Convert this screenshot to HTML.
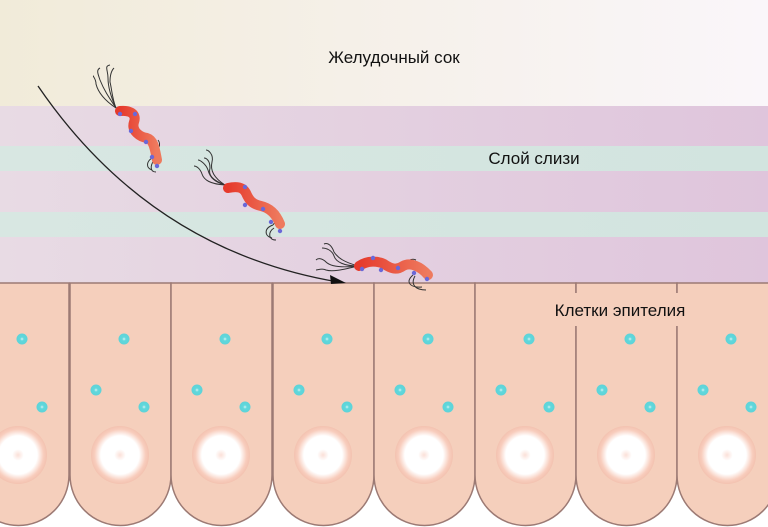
<!DOCTYPE html>
<html><head><meta charset="utf-8"><style>
html,body{margin:0;padding:0;background:#fff}
svg{display:block}
text{font-family:"Liberation Sans",sans-serif;fill:#111}
</style></head><body>
<svg width="768" height="527" viewBox="0 0 768 527" xmlns="http://www.w3.org/2000/svg">
<defs>
<linearGradient id="top" x1="0" x2="1"><stop offset="0" stop-color="#f1ebd9"/><stop offset="1" stop-color="#faf6fa"/></linearGradient>
<linearGradient id="pur" x1="0" x2="1"><stop offset="0" stop-color="#e8dbe4"/><stop offset="1" stop-color="#dfc5dc"/></linearGradient>
<linearGradient id="tea" x1="0" x2="1"><stop offset="0" stop-color="#d8e7e2"/><stop offset="1" stop-color="#d2e4df"/></linearGradient>
<radialGradient id="nuc"><stop offset="0" stop-color="#fbe0d8"/><stop offset="0.2" stop-color="#fff"/><stop offset="0.66" stop-color="#fff"/><stop offset="0.88" stop-color="#f8cdbd"/><stop offset="1" stop-color="#f3c2b0"/></radialGradient>
<radialGradient id="dot"><stop offset="0" stop-color="#d8f4f4"/><stop offset="0.35" stop-color="#60d8dc"/><stop offset="1" stop-color="#5dd3d8"/></radialGradient>
<linearGradient id="bac" x1="0" x2="1"><stop offset="0" stop-color="#e63a2c"/><stop offset="1" stop-color="#ee7a5e"/></linearGradient>
<g id="cell">
<path d="M0,0 L0,192 A50.5,50.5 0 0 0 101,192 L101,0 Z" fill="#f5cfbc" stroke="#9c7a74" stroke-width="1.5"/>
<circle cx="54" cy="56" r="5.5" fill="url(#dot)"/>
<circle cx="26" cy="107" r="5.5" fill="url(#dot)"/>
<circle cx="74" cy="124" r="5.5" fill="url(#dot)"/>
<circle cx="50" cy="172" r="29" fill="url(#nuc)"/>
</g>
</defs>
<rect x="0" y="0" width="768" height="106" fill="url(#top)"/>
<rect x="0" y="106" width="768" height="40" fill="url(#pur)"/>
<rect x="0" y="146" width="768" height="25" fill="url(#tea)"/>
<rect x="0" y="171" width="768" height="41" fill="url(#pur)"/>
<rect x="0" y="212" width="768" height="25" fill="url(#tea)"/>
<rect x="0" y="237" width="768" height="47" fill="url(#pur)"/>
<text x="394" y="63" font-size="17" text-anchor="middle">Желудочный сок</text>
<text x="534" y="164" font-size="17" text-anchor="middle">Слой слизи</text>

<use href="#cell" x="-32" y="283"/>
<use href="#cell" x="70" y="283"/>
<use href="#cell" x="171" y="283"/>
<use href="#cell" x="273" y="283"/>
<use href="#cell" x="374" y="283"/>
<use href="#cell" x="475" y="283"/>
<use href="#cell" x="576" y="283"/>
<use href="#cell" x="677" y="283"/>
<rect x="530" y="293" width="200" height="33" fill="#f5cfbc"/>
<text x="620" y="316" font-size="17" text-anchor="middle">Клетки эпителия</text>

<path d="M38,86 Q150,250 338,282" fill="none" stroke="#222" stroke-width="1.3"/>
<path d="M330,275 L346,283 L331,284 Z" fill="#111"/>

<g fill="none" stroke="#333" stroke-width="1">
<path d="M116,108 C108,96 104,90 100,80 C98,74 96,70 100,68"/>
<path d="M116,108 C110,95 108,85 108,78 C108,70 104,66 110,65"/>
<path d="M116,108 C112,98 112,90 110,82 C110,74 112,70 114,68"/>
<path d="M116,108 C104,100 98,92 96,84 C96,78 92,76 94,76"/>
<path d="M152,158 C158,150 162,145 158,140"/><path d="M152,158 C146,162 146,168 152,170"/><path d="M154,160 C150,166 150,172 156,172"/>
<path d="M225,185 C212,180 208,175 210,168 C210,160 206,158 204,158"/>
<path d="M225,185 C214,178 210,170 212,162 C214,154 208,150 206,150"/>
<path d="M225,185 C210,184 204,180 202,174 C200,168 196,166 194,166"/>
<path d="M225,185 C215,182 210,178 208,170 C206,164 200,160 198,160"/>
<path d="M273,225 C278,218 282,214 276,210"/><path d="M273,225 C264,228 264,236 272,238"/><path d="M274,228 C268,232 268,240 276,240"/>
<path d="M358,266 C344,266 336,262 334,256 C332,250 326,248 322,248"/>
<path d="M358,266 C344,262 338,258 334,252 C332,246 328,242 324,244"/>
<path d="M358,266 C340,268 330,266 326,262 C322,258 318,258 316,260"/>
<path d="M358,266 C342,270 332,272 326,270 C322,268 318,270 316,270"/>
<path d="M398,266 C410,260 412,258 416,260"/><path d="M413,275 C405,282 410,288 422,287"/><path d="M415,276 C410,285 416,290 426,290"/>
</g>
<g fill="none" stroke="url(#bac)" stroke-width="10" stroke-linecap="round">
<path d="M120,111 C130,110 137,114 134,122 C131,131 140,137 147,138 C154,140 155,150 157,160"/>
<path d="M228,188 C237,186 243,187 246,193 C249,200 252,204 261,206 C270,208 276,214 280,224"/>
<path d="M359,266 C368,260 378,261 384,264 C390,268 396,271 403,266 C410,262 420,266 428,275"/>
</g>
<g fill="#6a68d8">
<circle cx="120" cy="114" r="2.2"/><circle cx="135" cy="114" r="2.2"/><circle cx="131" cy="131" r="2.2"/><circle cx="146" cy="142" r="2.2"/><circle cx="152" cy="157" r="2.2"/><circle cx="157" cy="166" r="2.2"/>
<circle cx="245" cy="187" r="2.2"/><circle cx="245" cy="205" r="2.2"/><circle cx="263" cy="209" r="2.2"/><circle cx="271" cy="222" r="2.2"/><circle cx="280" cy="231" r="2.2"/>
<circle cx="373" cy="258" r="2.2"/><circle cx="362" cy="269" r="2.2"/><circle cx="381" cy="270" r="2.2"/><circle cx="398" cy="268" r="2.2"/><circle cx="414" cy="273" r="2.2"/><circle cx="427" cy="279" r="2.2"/>
</g>
</svg>
</body></html>
